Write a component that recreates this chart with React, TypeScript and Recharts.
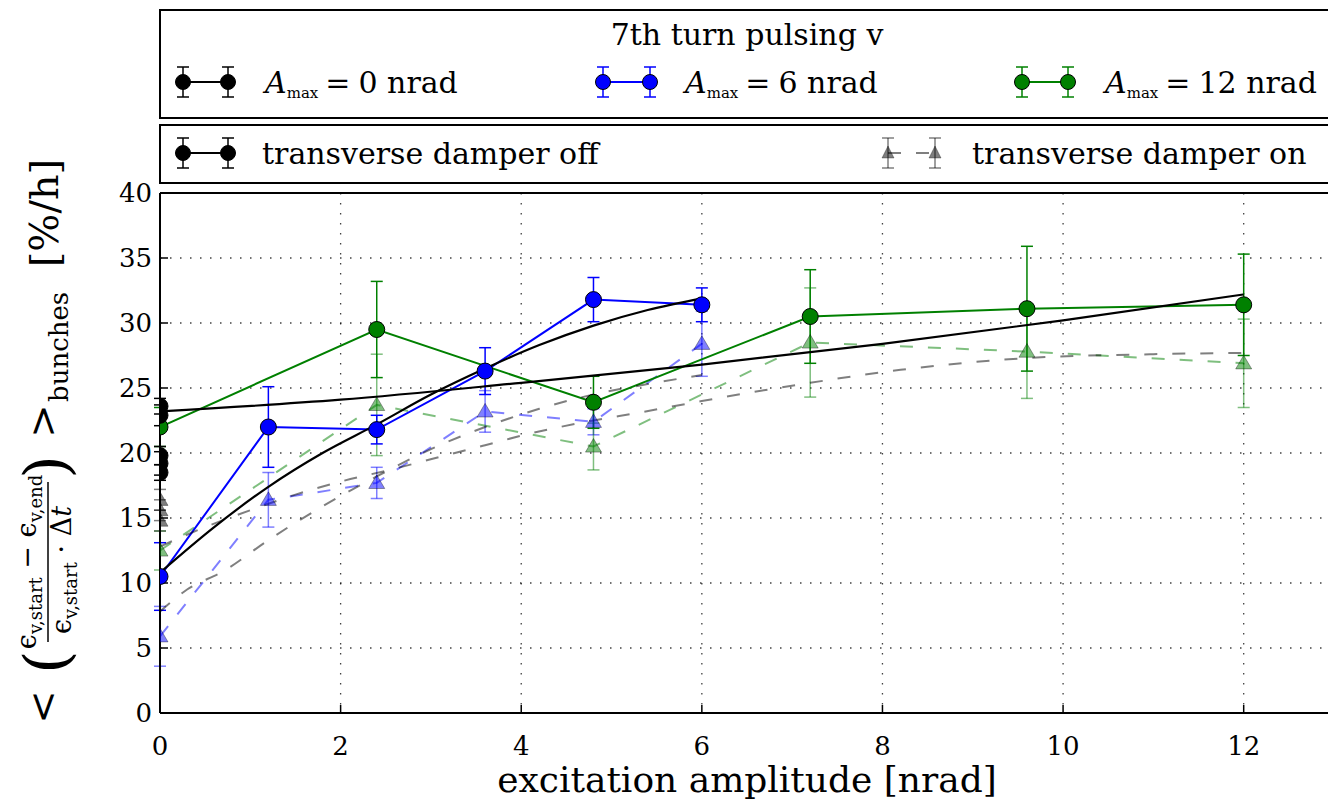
import React from 'react';
import { ComposedChart, Line, XAxis, YAxis, CartesianGrid, ErrorBar } from 'recharts';

const FONT = "DejaVu Serif";

// tick labels
const xTicks = [0, 2, 4, 6, 8, 10, 12];
const yTicks = [0, 5, 10, 15, 20, 25, 30, 35, 40];

// A_max = 6 nrad (blue)
const blueX = [0, 1.2, 2.4, 3.6, 4.8, 6];
const blueOffY = [10.5, 22.0, 21.8, 26.3, 31.8, 31.4];
const blueOffErr = [2.6, 3.1, 1.1, 1.8, 1.7, 1.3];
const blueOnY = [5.9, 16.4, 17.7, 23.2, 22.4, 28.4];
const blueOnErr = [2.3, 2.1, 1.2, 1.6, 1.0, 2.5];

// A_max = 12 nrad (green)
const greenX = [0, 2.4, 4.8, 7.2, 9.6, 12];
const greenOffY = [22.0, 29.5, 23.9, 30.5, 31.1, 31.4];
const greenOffErr = [1.5, 3.7, 2.0, 3.6, 4.8, 3.9];
const greenOnY = [12.5, 23.7, 20.5, 28.5, 27.8, 26.9];
const greenOnErr = [1.5, 3.9, 1.8, 4.2, 3.6, 3.4];

// A_max = 0 nrad (black), all at zero excitation
const blackOffX = [0, 0, 0, 0, 0];
const blackOffY = [23.6, 22.9, 19.8, 19.2, 18.5];
const blackOffErr = [0.6, 0.8, 0.7, 0.9, 0.6];
const blackOnX = [0, 0, 0];
const blackOnY = [16.4, 15.6, 14.8];
const blackOnErr = [0.8, 0.8, 0.8];

// fit curves
const fitBlueOffX = [0, 0.6, 1.2, 1.8, 2.4, 3.0, 3.6, 4.2, 4.8, 5.4, 6];
const fitBlueOffY = [10.8, 14.3, 17.4, 20.0, 22.2, 24.5, 26.5, 28.3, 29.8, 31.0, 31.9];
const fitGreenOffX = [0, 2, 4, 6, 8, 10, 12];
const fitGreenOffY = [23.2, 24.1, 25.4, 26.8, 28.4, 30.2, 32.2];
const fitBlueOnX = [0, 0.3, 0.7, 1.2, 1.8, 2.4, 3.0, 3.6, 4.2, 4.8, 5.4, 6];
const fitBlueOnY = [7.8, 9.5, 10.9, 13.3, 15.9, 18.2, 20.3, 22.0, 23.4, 24.5, 25.3, 26.0];
const fitGreenOnX = [0, 0.5, 1.0, 1.5, 2.0, 2.6, 3.1, 3.6, 4.1, 4.8, 5.3, 6.0, 7.2, 8.2, 9.6, 11, 12];
const fitGreenOnY = [12.8, 14.3, 15.6, 16.8, 17.8, 18.8, 19.7, 20.6, 21.5, 22.5, 23.1, 24.0, 25.4, 26.4, 27.3, 27.6, 27.7];

const pts = (xs: number[], ys: number[], es?: number[]) =>
  xs.map((x, i) => ({ x, y: ys[i], e: es ? es[i] : 0 }));

const BLUE = '#0000ff';
const GREEN = '#008000';
const BLACK = '#000000';

const circleDot = (color: string) => (props: any) => {
  const { cx, cy, index } = props;
  if (cx == null || cy == null) return <g key={`n${index}`} />;
  return <circle key={`c${index}`} cx={cx} cy={cy} r={8} fill={color} stroke="#000" strokeWidth={1} />;
};

const triDot = (color: string) => (props: any) => {
  const { cx, cy, index } = props;
  if (cx == null || cy == null) return <g key={`n${index}`} />;
  const s = 8;
  return (
    <polygon
      key={`t${index}`}
      points={`${cx},${cy - s} ${cx - s},${cy + s * 0.7} ${cx + s},${cy + s * 0.7}`}
      fill={color}
      fillOpacity={0.5}
      stroke="#000"
      strokeOpacity={0.35}
      strokeWidth={1}
    />
  );
};

const XTick = (props: any) => {
  const { x, y, payload } = props;
  return (
    <text x={x} y={y + 2} dy="0.71em" textAnchor="middle" fontSize={26} fontFamily={FONT} fill="#000">
      {payload.value}
    </text>
  );
};

const YTick = (props: any) => {
  const { x, y, payload } = props;
  return (
    <text x={x} y={y} dy="0.355em" textAnchor="end" fontSize={26} fontFamily={FONT} fill="#000">
      {payload.value}
    </text>
  );
};

const T = (p: any) => <text fontFamily={FONT} fill="#000" {...p} />;

const YLabel = () => {
  const sub = 18;
  return (
    <g transform="rotate(-90)">
      <T x={-707} y={56} fontSize={40} textAnchor="middle">&lt;</T>
      <T x={-662} y={67} fontSize={60} textAnchor="middle">(</T>
      <T x={-562} y={36} fontSize={27} textAnchor="middle">
        <tspan>ϵ</tspan>
        <tspan fontSize={sub} dy={6}>v,start</tspan>
        <tspan dy={-6}> − ϵ</tspan>
        <tspan fontSize={sub} dy={6}>v,end</tspan>
      </T>
      <line x1={-642} x2={-482} y1={48} y2={48} stroke="#000" strokeWidth={1.5} />
      <T x={-570} y={71} fontSize={27} textAnchor="middle">
        <tspan>ϵ</tspan>
        <tspan fontSize={sub} dy={6}>v,start</tspan>
        <tspan dy={-6}> · Δ</tspan>
        <tspan fontStyle="italic">t</tspan>
      </T>
      <T x={-467} y={67} fontSize={60} textAnchor="middle">)</T>
      <T x={-421} y={56} fontSize={40} textAnchor="middle">&gt;</T>
      <T x={-402} y={68} fontSize={26} textAnchor="start">bunches</T>
      <T x={-213} y={58} fontSize={40} textAnchor="middle">[%/h]</T>
    </g>
  );
};

const Handle = ({ xs, y, color, tri, opacity = 1, dash }: any) => (
  <g>
    <line x1={xs[0]} x2={xs[1]} y1={y} y2={y} stroke={color} strokeWidth={2} strokeOpacity={opacity} strokeDasharray={dash} />
    {xs.map((x: number) => (
      <g key={x}>
        <line x1={x} x2={x} y1={y - 15} y2={y + 15} stroke={color} strokeWidth={1.5} strokeOpacity={opacity} />
        <line x1={x - 6} x2={x + 6} y1={y - 15} y2={y - 15} stroke={color} strokeWidth={1.5} strokeOpacity={opacity} />
        <line x1={x - 6} x2={x + 6} y1={y + 15} y2={y + 15} stroke={color} strokeWidth={1.5} strokeOpacity={opacity} />
        {tri ? (
          <polygon points={`${x},${y - 7} ${x - 6},${y + 5} ${x + 6},${y + 5}`} fill={color} fillOpacity={0.5} stroke="#000" strokeOpacity={0.3} />
        ) : (
          <circle cx={x} cy={y} r={7.5} fill={color} stroke="#000" strokeWidth={1} />
        )}
      </g>
    ))}
  </g>
);

const AmaxText = ({ x, v }: any) => (
  <text x={x} y={93} fontSize={30} fontFamily={FONT} fill="#000">
    <tspan fontStyle="italic">A</tspan>
    <tspan fontSize={15} dy={5}>max</tspan>
    <tspan dy={-5} dx={7}>=</tspan>
    <tspan dx={8}>{`${v} nrad`}</tspan>
  </text>
);

const LegendOverlay = () => (
  <svg width={1328} height={192} style={{ position: 'absolute', left: 0, top: 0, pointerEvents: 'none' }}>
    <rect x={160} y={10} width={1174} height={108} fill="#fff" stroke="#000" strokeWidth={2} />
    <text x={747} y={45} fontSize={30} fontFamily={FONT} textAnchor="middle" fill="#000">7th turn pulsing v</text>
    <Handle xs={[183, 228]} y={82} color={BLACK} />
    <AmaxText x={265} v="0" />
    <Handle xs={[603, 650]} y={82} color={BLUE} />
    <AmaxText x={685} v="6" />
    <Handle xs={[1022, 1068]} y={82} color={GREEN} />
    <AmaxText x={1105} v="12" />
    <rect x={160} y={125} width={1174} height={58} fill="#fff" stroke="#000" strokeWidth={2} />
    <Handle xs={[183, 228]} y={153} color={BLACK} />
    <text x={262} y={164} fontSize={30} fontFamily={FONT} fill="#000">transverse damper off</text>
    <Handle xs={[888, 935]} y={153} color={BLACK} tri opacity={0.5} dash="13 15" />
    <text x={972} y={164} fontSize={30} fontFamily={FONT} fill="#000">transverse damper on</text>
  </svg>
);

export default function App() {
  const dashed = '13 15';
  return (
    <div style={{ position: 'absolute', left: 0, top: 0, width: 1328, height: 802, overflow: 'hidden', background: '#fff' }}>
      <ComposedChart width={1340} height={802} margin={{ top: 192, right: 6, bottom: 9, left: 100 }}>
        <CartesianGrid stroke="#000" strokeOpacity={0.75} strokeDasharray="1.5 8.5" strokeWidth={1.3} />
        <XAxis
          xAxisId={0}
          dataKey="x"
          type="number"
          domain={[0, 13]}
          ticks={xTicks}
          allowDataOverflow
          height={80}
          axisLine={{ stroke: '#000', strokeWidth: 2 }}
          tickLine={{ stroke: '#000', strokeWidth: 1.5 }}
          tickSize={-8}
          tickMargin={30}
          tick={<XTick />}
          label={{ value: 'excitation amplitude [nrad]', position: 'insideBottom', offset: 1, fontSize: 36, fill: '#000', fontFamily: FONT }}
        />
        <XAxis
          xAxisId="top"
          orientation="top"
          type="number"
          domain={[0, 13]}
          ticks={xTicks}
          allowDataOverflow
          height={1}
          axisLine={{ stroke: '#000', strokeWidth: 2 }}
          tickLine={{ stroke: '#000', strokeWidth: 1.5 }}
          tickSize={-8}
          tick={false}
        />
        <YAxis
          yAxisId={0}
          dataKey="y"
          type="number"
          domain={[0, 40]}
          ticks={yTicks}
          allowDataOverflow
          width={60}
          axisLine={{ stroke: '#000', strokeWidth: 2 }}
          tickLine={{ stroke: '#000', strokeWidth: 1.5 }}
          tickSize={-8}
          tickMargin={16}
          tick={<YTick />}
          label={{ content: () => <YLabel /> }}
        />

        {/* damper on: dashed, translucent */}
        <Line data={pts(blueX, blueOnY, blueOnErr)} dataKey="y" type="linear" stroke={BLUE} strokeOpacity={0.5} strokeWidth={2} strokeDasharray={dashed} dot={triDot(BLUE)} activeDot={false} isAnimationActive={false}>
          <ErrorBar dataKey="e" direction="y" width={6} stroke={BLUE} strokeOpacity={0.5} strokeWidth={1.5} />
        </Line>
        <Line data={pts(greenX, greenOnY, greenOnErr)} dataKey="y" type="linear" stroke={GREEN} strokeOpacity={0.5} strokeWidth={2} strokeDasharray={dashed} dot={triDot(GREEN)} activeDot={false} isAnimationActive={false}>
          <ErrorBar dataKey="e" direction="y" width={6} stroke={GREEN} strokeOpacity={0.5} strokeWidth={1.5} />
        </Line>
        <Line data={pts(blackOnX, blackOnY, blackOnErr)} dataKey="y" type="linear" stroke="none" dot={triDot(BLACK)} activeDot={false} isAnimationActive={false}>
          <ErrorBar dataKey="e" direction="y" width={6} stroke={BLACK} strokeOpacity={0.5} strokeWidth={1.5} />
        </Line>

        {/* damper off: solid */}
        <Line data={pts(blueX, blueOffY, blueOffErr)} dataKey="y" type="linear" stroke={BLUE} strokeWidth={2} dot={circleDot(BLUE)} activeDot={false} isAnimationActive={false}>
          <ErrorBar dataKey="e" direction="y" width={6} stroke={BLUE} strokeWidth={1.5} />
        </Line>
        <Line data={pts(greenX, greenOffY, greenOffErr)} dataKey="y" type="linear" stroke={GREEN} strokeWidth={2} dot={circleDot(GREEN)} activeDot={false} isAnimationActive={false}>
          <ErrorBar dataKey="e" direction="y" width={6} stroke={GREEN} strokeWidth={1.5} />
        </Line>
        <Line data={pts(blackOffX, blackOffY, blackOffErr)} dataKey="y" type="linear" stroke="none" dot={circleDot(BLACK)} activeDot={false} isAnimationActive={false}>
          <ErrorBar dataKey="e" direction="y" width={6} stroke={BLACK} strokeWidth={1.5} />
        </Line>

        {/* fits */}
        <Line data={pts(fitBlueOnX, fitBlueOnY)} dataKey="y" type="monotone" stroke="#000" strokeOpacity={0.5} strokeWidth={2} strokeDasharray={dashed} dot={false} activeDot={false} isAnimationActive={false} />
        <Line data={pts(fitGreenOnX, fitGreenOnY)} dataKey="y" type="monotone" stroke="#000" strokeOpacity={0.5} strokeWidth={2} strokeDasharray={dashed} dot={false} activeDot={false} isAnimationActive={false} />
        <Line data={pts(fitBlueOffX, fitBlueOffY)} dataKey="y" type="monotone" stroke="#000" strokeWidth={2.2} dot={false} activeDot={false} isAnimationActive={false} />
        <Line data={pts(fitGreenOffX, fitGreenOffY)} dataKey="y" type="monotone" stroke="#000" strokeWidth={2.2} dot={false} activeDot={false} isAnimationActive={false} />
      </ComposedChart>
      <LegendOverlay />
    </div>
  );
}
